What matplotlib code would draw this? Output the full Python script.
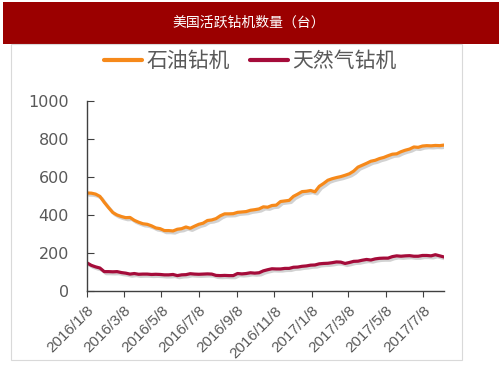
import matplotlib.pyplot as plt
import matplotlib.patheffects as pe
from matplotlib.patches import Rectangle
import pandas as pd

# Weekly US rig counts, first week 2016/1/8
start_date = '2016-01-08'
oil_rigs = [516, 515, 510, 498, 467, 439, 413, 400, 392, 386, 387, 372,
            362, 354, 351, 343, 332, 328, 318, 318, 316, 325, 328, 337,
            330, 341, 351, 357, 371, 374, 381, 396, 406, 406, 407, 414,
            416, 418, 425, 428, 432, 443, 441, 450, 452, 471, 474, 477,
            498, 510, 523, 525, 529, 522, 551, 566, 583, 591, 597, 602,
            609, 617, 631, 652, 662, 672, 683, 688, 697, 703, 712, 720,
            722, 733, 741, 747, 758, 756, 763, 765, 764, 766, 765, 768]
gas_rigs = [148, 135, 127, 121, 102, 102, 101, 102, 97, 94, 89, 92,
            88, 89, 89, 87, 88, 87, 85, 85, 87, 81, 85, 86,
            91, 89, 88, 89, 90, 89, 82, 81, 82, 81, 81, 92,
            90, 92, 96, 94, 96, 106, 112, 117, 116, 116, 119, 119,
            125, 126, 130, 132, 136, 137, 143, 145, 146, 149, 153, 152,
            145, 150, 156, 157, 162, 166, 163, 169, 172, 173, 173, 181,
            185, 183, 185, 186, 183, 183, 187, 187, 185, 191, 185, 179]
tick_labels = ['2016/1/8', '2016/3/8', '2016/5/8', '2016/7/8', '2016/9/8',
               '2016/11/8', '2017/1/8', '2017/3/8', '2017/5/8', '2017/7/8']
series_names = ['石油钻机', '天然气钻机']
title = '美国活跃钻机数量（台）'

dates = pd.date_range(start_date, periods=len(oil_rigs), freq='7D')
tick_dates = pd.to_datetime(tick_labels, format='%Y/%m/%d')

cjk = ['Noto Sans CJK SC', 'DejaVu Sans']
grey = '#595959'

fig = plt.figure(figsize=(5.03, 3.78), dpi=100)

# Title bar and chart frame
fig.patches.append(Rectangle((3/503, 1-44/378), 496/503, 42/378, transform=fig.transFigure,
                             facecolor='#9b0000', edgecolor='none'))
fig.patches.append(Rectangle((11/503, 1-360/378), 451/503, 316/378, transform=fig.transFigure,
                             facecolor='none', edgecolor='#d9d9d9', lw=0.8))
fig.text(0.494, 1-23/378, title, color='white', fontsize=10, family=cjk, ha='center', va='center')

ax = fig.add_axes([87/503, 1-291/378, 357/503, 190/378])
shadow = [pe.SimpleLineShadow(offset=(1.5, -1.5), shadow_color='#808080', alpha=0.35), pe.Normal()]
l1, = ax.plot(dates, oil_rigs, color='#f6891a', lw=2.3, path_effects=shadow, solid_capstyle='round')
l2, = ax.plot(dates, gas_rigs, color='#a50c3a', lw=2.3, path_effects=shadow, solid_capstyle='round')

ax.set_ylim(0, 1000)
ax.set_yticks(range(0, 1001, 200))
ax.set_xlim(dates[0], dates[-1])
ax.set_xticks(tick_dates)
ax.set_xticklabels(tick_labels, rotation=45, ha='right', rotation_mode='anchor',
                   family='Liberation Sans', fontsize=11, color=grey)
for lab in ax.get_yticklabels():
    lab.set_family('DejaVu Sans')
    lab.set_fontsize(11.5)
    lab.set_color(grey)

for s in ['top', 'right']:
    ax.spines[s].set_visible(False)
for s in ['left', 'bottom']:
    ax.spines[s].set_color('#404040')
    ax.spines[s].set_linewidth(1)
ax.tick_params(axis='y', direction='in', length=5, color='#404040', pad=13)
ax.tick_params(axis='x', direction='out', length=4, color='#404040', pad=5)

leg = fig.legend([l1, l2], series_names, loc='center', bbox_to_anchor=(0.498, 1-61/378),
                 ncol=2, frameon=False, handlelength=1.8, handletextpad=0.2, columnspacing=1.0,
                 prop={'family': cjk, 'size': 15})
for t in leg.get_texts():
    t.set_color(grey)
for h in leg.legend_handles:
    h.set_path_effects([])
    h.set_linewidth(3)

fig.savefig('out.png', dpi=100)
